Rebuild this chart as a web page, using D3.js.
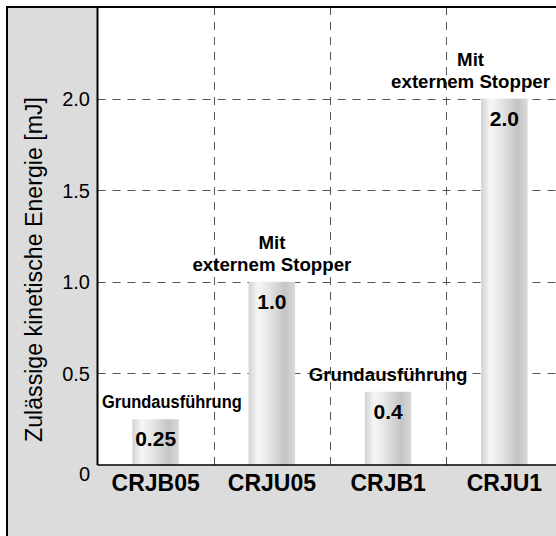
<!DOCTYPE html>
<html>
<head>
<meta charset="utf-8">
<script src="https://cdn.jsdelivr.net/npm/d3@7"></script>
<style>
  body { margin: 0; background: #fff; }
  svg { display: block; font-family: "Liberation Sans", Arial, Helvetica, sans-serif; }
</style>
</head>
<body>
<svg id="chart" width="556" height="536"></svg>
<script>
// chart values
var models = ["CRJB05", "CRJU05", "CRJB1", "CRJU1"];
var energies = [0.25, 1.0, 0.4, 2.0];
var valueLabels = ["0.25", "1.0", "0.4", "2.0"];
var notes = [
  ["Grundausführung"],
  ["Mit", "externem Stopper"],
  ["Grundausführung"],
  ["Mit", "externem Stopper"]
];
var yTicks = [0, 0.5, 1.0, 1.5, 2.0];
var yTickLabels = ["0", "0.5", "1.0", "1.5", "2.0"];
var yTitle = "Zulässige kinetische Energie [mJ]";

var svg = d3.select("#chart");
var frame = {left: 7, top: 7};
var plot = {left: 97.5, top: 7, right: 562.5, bottom: 465};

var x = d3.scaleBand().domain(models).range([plot.left, plot.right]).padding(0);
var y = d3.scaleLinear().domain([0, 2.5]).range([plot.bottom, plot.top]);
var barW = x.bandwidth() * 0.4;

// cylinder look for the bars
var grad = svg.append("defs").append("linearGradient")
    .attr("id", "cyl").attr("x1", "0%").attr("x2", "100%");
grad.selectAll("stop")
  .data([["0%", "#d2d2d2"], ["20%", "#f6f6f6"], ["45%", "#e4e4e4"], ["78%", "#c4c4c4"], ["100%", "#dadada"]])
  .enter().append("stop")
    .attr("offset", function(d) { return d[0]; })
    .attr("stop-color", function(d) { return d[1]; });

// gray outer panel + white plot area
svg.append("rect")
    .attr("x", frame.left).attr("y", frame.top)
    .attr("width", 600).attr("height", 600)
    .attr("fill", "#dcdcdc");
svg.append("rect")
    .attr("x", plot.left).attr("y", plot.top)
    .attr("width", plot.right - plot.left).attr("height", plot.bottom - plot.top)
    .attr("fill", "#fff");

// dashed grid
var grid = svg.append("g").attr("stroke", "#555").attr("stroke-width", 1).attr("stroke-dasharray", "8,7");
grid.selectAll(".hgrid")
  .data(yTicks.filter(function(d) { return d > 0; }))
  .enter().append("line")
    .attr("x1", plot.left).attr("x2", plot.right)
    .attr("y1", function(d) { return Math.round(y(d)) + 0.5; })
    .attr("y2", function(d) { return Math.round(y(d)) + 0.5; });
grid.selectAll(".vgrid")
  .data(models.slice(1))
  .enter().append("line")
    .attr("x1", function(d) { return Math.round(x(d)) + 0.5; })
    .attr("x2", function(d) { return Math.round(x(d)) + 0.5; })
    .attr("y1", plot.top).attr("y2", plot.bottom);

// bars
svg.selectAll(".bar")
  .data(energies)
  .enter().append("rect")
    .attr("class", "bar")
    .attr("x", function(d, i) { return x(models[i]) + (x.bandwidth() - barW) / 2; })
    .attr("y", function(d) { return y(d); })
    .attr("width", barW)
    .attr("height", function(d) { return y(0) - y(d); })
    .attr("fill", "url(#cyl)");

// value inside each bar
svg.selectAll(".val")
  .data(energies)
  .enter().append("text")
    .attr("x", function(d, i) { return x(models[i]) + x.bandwidth() / 2; })
    .attr("y", function(d) { return y(d) + 27; })
    .attr("text-anchor", "middle")
    .attr("font-size", "21px")
    .attr("font-weight", "bold")
    .text(function(d, i) { return valueLabels[i]; });

// notes above the bars, kept inside the visible plot
var minX = plot.left + 4.5, maxX = 550;
notes.forEach(function(lines, i) {
  var g = svg.append("g");
  var base = y(energies[i]) - 11;
  var t = g.selectAll("text")
    .data(lines)
    .enter().append("text")
      .attr("y", function(d, j) { return base - (lines.length - 1 - j) * 22; })
      .attr("text-anchor", "middle")
      .attr("font-size", "18.7px")
      .attr("font-weight", "bold")
      .text(function(d) { return d; });
  var w = d3.max(t.nodes(), function(n) { return n.getComputedTextLength(); });
  var cx = x(models[i]) + x.bandwidth() / 2;
  if (cx - w / 2 < minX) {
    // squeeze the text a bit like the original did next to the axis
    w = w * 0.88;
    t.attr("textLength", w).attr("lengthAdjust", "spacingAndGlyphs");
    cx = minX + w / 2;
  }
  if (cx + w / 2 > maxX) cx = maxX - w / 2;
  t.attr("x", cx);
});

// axes
svg.append("line")
    .attr("x1", plot.left).attr("x2", plot.left)
    .attr("y1", plot.top).attr("y2", plot.bottom)
    .attr("stroke", "#000").attr("stroke-width", 2);
svg.append("line")
    .attr("x1", plot.left).attr("x2", plot.right)
    .attr("y1", plot.bottom).attr("y2", plot.bottom)
    .attr("stroke", "#000").attr("stroke-width", 1.5);

var yAxis = svg.append("g")
    .attr("transform", "translate(" + plot.left + ",0)")
    .call(d3.axisLeft(y).tickValues(yTicks).tickSize(0).tickPadding(7.5)
      .tickFormat(function(d, i) { return yTickLabels[i]; }));
yAxis.select(".domain").remove();
yAxis.selectAll("text")
    .attr("font-family", null)
    .attr("font-size", "20px")
    .attr("fill", "#000")
    .attr("dy", function(d) { return d === 0 ? "0.75em" : "0.35em"; });

var xAxis = svg.append("g")
    .attr("transform", "translate(0," + plot.bottom + ")")
    .call(d3.axisBottom(x).tickSize(0).tickPadding(9.7));
xAxis.select(".domain").remove();
xAxis.selectAll("text")
    .attr("font-family", null)
    .attr("font-size", "23px")
    .attr("font-weight", "bold")
    .attr("fill", "#000");

// y title
svg.append("text")
    .attr("transform", "translate(42," + 269.5 + ") rotate(-90)")
    .attr("text-anchor", "middle")
    .attr("font-size", "23px")
    .attr("textLength", 345)
    .attr("lengthAdjust", "spacingAndGlyphs")
    .text(yTitle);

// outer border
svg.append("path")
    .attr("d", "M" + frame.left + ",600V" + frame.top + "H600")
    .attr("fill", "none")
    .attr("stroke", "#000")
    .attr("stroke-width", 2);
</script>
</body>
</html>
